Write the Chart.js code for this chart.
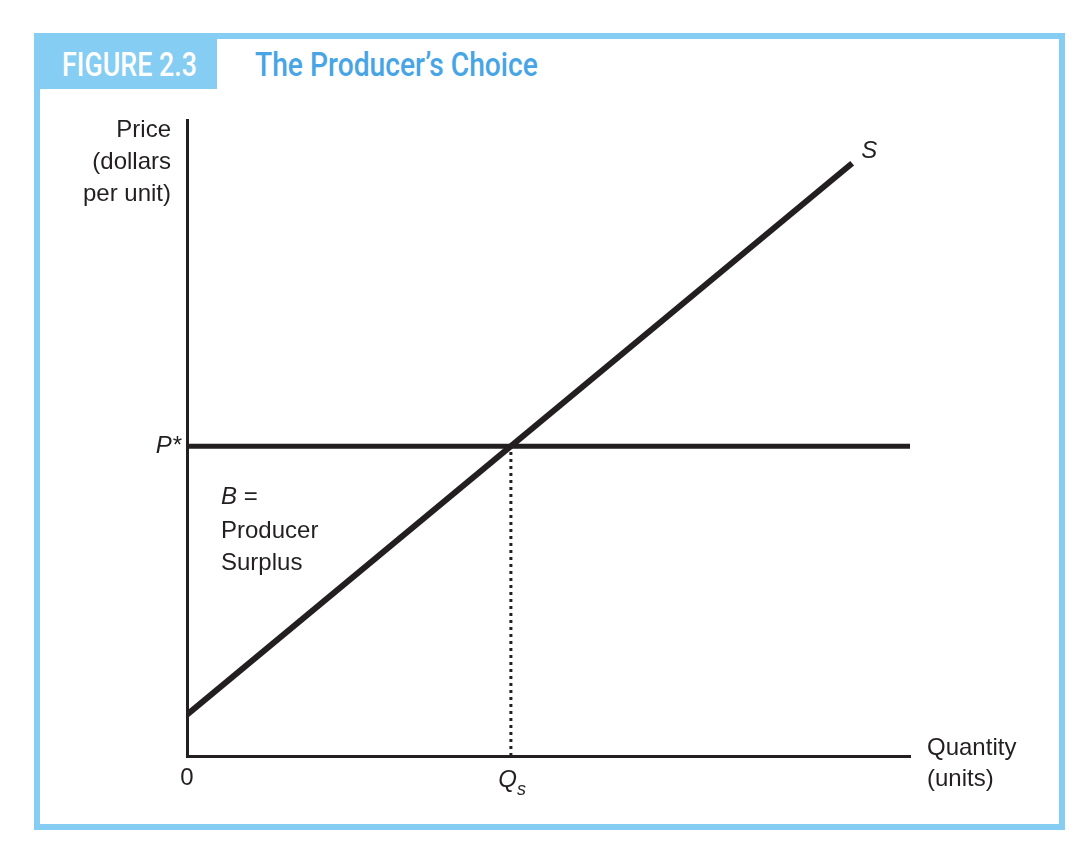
<!DOCTYPE html>
<html>
<head>
<meta charset="utf-8">
<script src="https://cdn.jsdelivr.net/npm/chart.js@4"></script>
<style>
    body { margin: 0; background: #ffffff; }
    #page { position: relative; width: 1088px; height: 856px; overflow: hidden; }
    #frame {
        position: absolute; left: 34px; top: 33px; width: 1019px; height: 785px;
        border: 6px solid #86cdf3;
    }
    #figBox {
        position: absolute; left: 40px; top: 39px; width: 177px; height: 50px;
        background: #86cdf3;
    }
    .head {
        position: absolute; top: 44px; font-family: Roboto, "Liberation Sans", sans-serif;
        font-weight: 500; font-size: 34px; line-height: 40px; white-space: nowrap;
        transform-origin: 0 0;
    }
    #figLabel { left: 62px; color: #ffffff; }
    #figTitle { left: 255px; color: #47a5e6; }
    #chart { position: absolute; left: 0; top: 0; }
</style>
</head>
<body>
<div id="page">
    <div id="frame"></div>
    <div id="figBox"></div>
    <div class="head" id="figLabel">FIGURE 2.3</div>
    <div class="head" id="figTitle">The Producer’s Choice</div>
    <canvas id="chart" width="1088" height="856"></canvas>
</div>
<script>
// Chart values (axis units are arbitrary 0-100)
const supplyQty = [0, 92];
const supplyPrice = [6.5, 93.2];
const priceStar = 48.7;
const qtySupplied = 44.8;
const qtyRange = [0, 100];
const priceRange = [0, 100];

const ink = '#231f20';
const textFont = '"Liberation Sans", Arial, sans-serif';

// squeeze the header text to the condensed width of the original
function fitWidth(id, target) {
    const el = document.getElementById(id);
    el.style.transform = 'scaleX(' + (target / el.offsetWidth) + ')';
}
fitWidth('figLabel', 135);
fitWidth('figTitle', 283);

// Draw all the axis labels and annotations from the scales
const labelPlugin = {
    id: 'labels',
    afterDraw(chart) {
        const ctx = chart.ctx;
        const x = chart.scales.x;
        const y = chart.scales.y;
        const area = chart.chartArea;
        ctx.save();
        ctx.fillStyle = ink;
        ctx.textBaseline = 'middle';
        const normal = '24px ' + textFont;
        const italic = 'italic 24px ' + textFont;

        // y axis title
        ctx.font = normal;
        ctx.textAlign = 'right';
        ctx.fillText('Price', area.left - 16, area.top + 10);
        ctx.fillText('(dollars', area.left - 16, area.top + 42);
        ctx.fillText('per unit)', area.left - 16, area.top + 74);

        // P* tick
        ctx.font = italic;
        ctx.fillText('P*', area.left - 6, y.getPixelForValue(priceStar));

        // x axis title
        ctx.font = normal;
        ctx.textAlign = 'left';
        ctx.fillText('Quantity', area.right + 17, area.bottom - 8);
        ctx.fillText('(units)', area.right + 17, area.bottom + 23);

        // origin and Qs
        ctx.textAlign = 'center';
        ctx.fillText('0', x.getPixelForValue(qtyRange[0]), area.bottom + 22);
        const qx = x.getPixelForValue(qtySupplied);
        ctx.font = italic;
        ctx.textAlign = 'right';
        ctx.fillText('Q', qx + 6, area.bottom + 24);
        ctx.font = 'italic 18px ' + textFont;
        ctx.textAlign = 'left';
        ctx.fillText('s', qx + 6, area.bottom + 34);

        // supply curve label
        ctx.font = italic;
        const sx = x.getPixelForValue(supplyQty[1]);
        const sy = y.getPixelForValue(supplyPrice[1]);
        ctx.fillText('S', sx + 9, sy - 12);

        // producer surplus note
        const py = y.getPixelForValue(priceStar);
        ctx.fillText('B', area.left + 34, py + 51);
        const bw = ctx.measureText('B').width;
        ctx.font = normal;
        ctx.fillText(' =', area.left + 34 + bw, py + 51);
        ctx.fillText('Producer', area.left + 34, py + 85);
        ctx.fillText('Surplus', area.left + 34, py + 117);
        ctx.restore();
    }
};

const ctx = document.getElementById('chart').getContext('2d');

const chart = new Chart(ctx, {
    type: 'scatter',
    data: {
        datasets: [
            {
                // supply curve
                data: supplyQty.map((q, i) => ({ x: q, y: supplyPrice[i] })),
                showLine: true,
                borderColor: ink,
                borderWidth: 6,
                pointRadius: 0
            },
            {
                // market price line
                data: [{ x: qtyRange[0], y: priceStar }, { x: qtyRange[1], y: priceStar }],
                showLine: true,
                borderColor: ink,
                borderWidth: 5,
                pointRadius: 0
            },
            {
                // dotted drop line to Qs
                data: [{ x: qtySupplied, y: priceRange[0] }, { x: qtySupplied, y: priceStar }],
                showLine: true,
                borderColor: ink,
                borderWidth: 3,
                borderDash: [3, 4],
                pointRadius: 0
            }
        ]
    },
    options: {
        responsive: false,
        animation: false,
        layout: {
            padding: { left: 187, top: 120, right: 178, bottom: 100 }
        },
        plugins: {
            legend: { display: false },
            tooltip: { enabled: false }
        },
        scales: {
            x: {
                type: 'linear',
                min: qtyRange[0],
                max: qtyRange[1],
                grid: { display: false },
                ticks: { display: false },
                border: { display: true, color: ink, width: 3 },
                afterFit(scale) { scale.height = 0; }
            },
            y: {
                type: 'linear',
                min: priceRange[0],
                max: priceRange[1],
                grid: { display: false },
                ticks: { display: false },
                border: { display: true, color: ink, width: 3 },
                afterFit(scale) { scale.width = 0; }
            }
        }
    },
    plugins: [labelPlugin]
});
</script>
</body>
</html>
